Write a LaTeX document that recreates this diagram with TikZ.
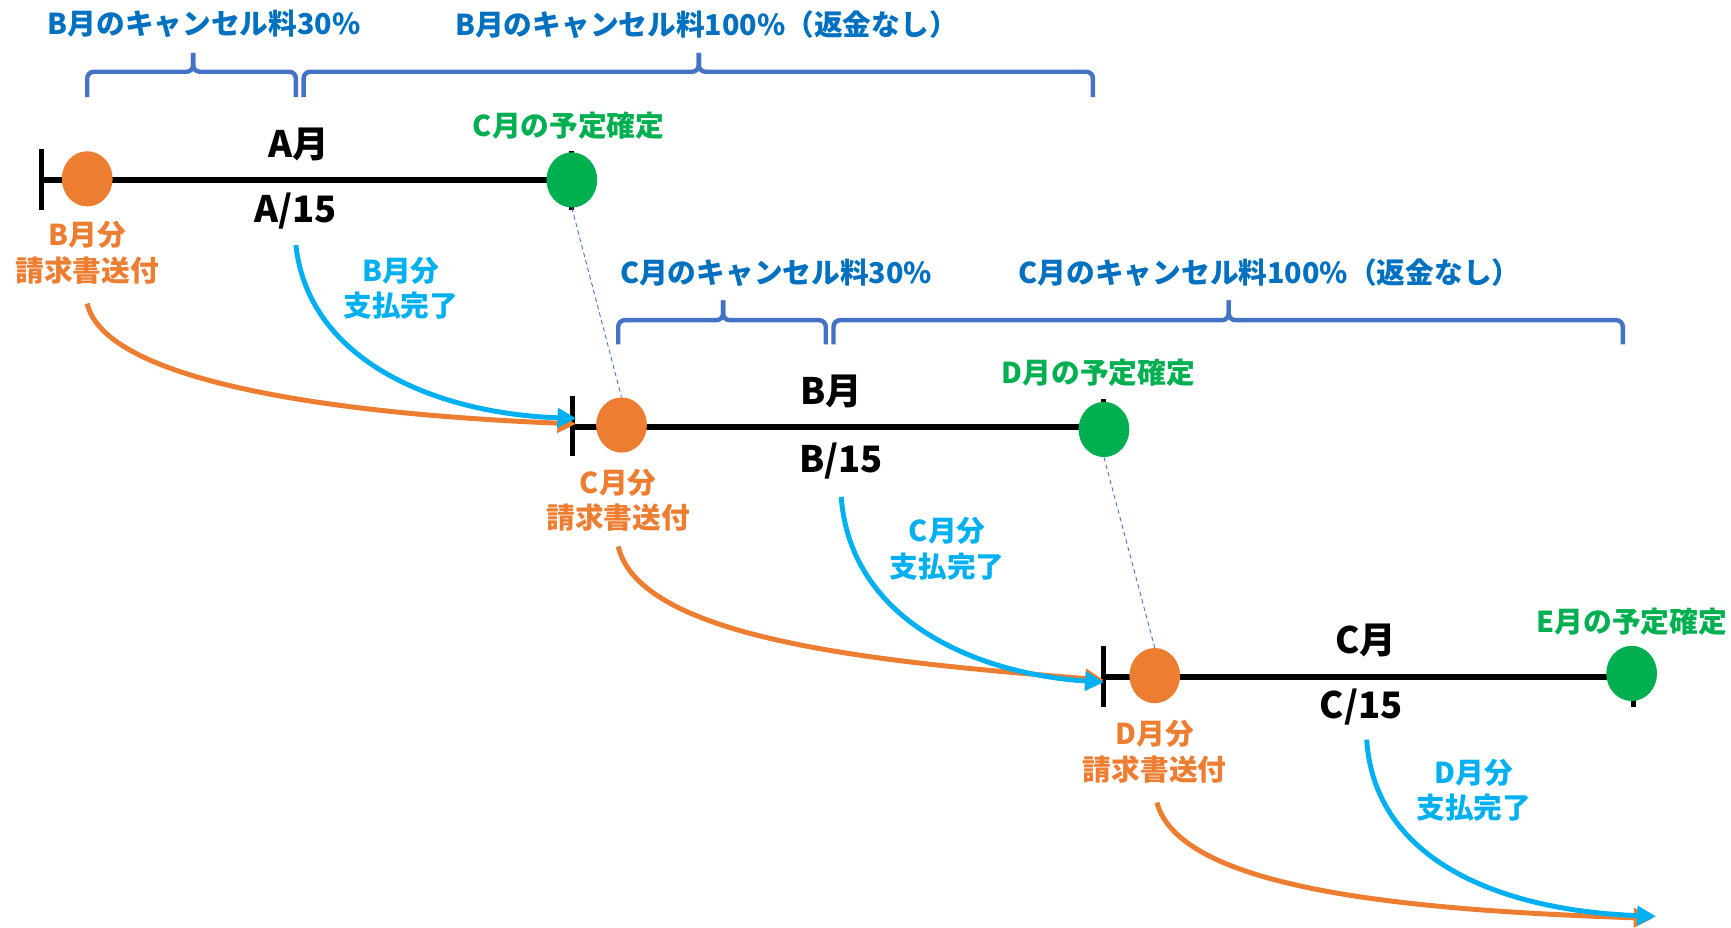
\documentclass[tikz,border=0pt]{standalone}
\usepackage{fontspec}
\setmainfont{Noto Sans CJK JP}
\usetikzlibrary{arrows.meta,shapes.geometric}
\definecolor{dblue}{HTML}{0070C0}
\definecolor{lblue}{HTML}{00B0F0}
\definecolor{orn}{HTML}{ED7D31}
\definecolor{grn}{HTML}{00B050}
\definecolor{brc}{HTML}{4472C4}
\begin{document}
\begin{tikzpicture}[x=1pt,y=-1pt,
  lab/.style={font=\fontsize{26}{32}\selectfont\bfseries, inner sep=0pt, align=center},
  big/.style={font=\fontsize{33}{36}\selectfont\bfseries, inner sep=0pt},
  tl/.style={line width=5.5pt, black},
  tickln/.style={line width=4.5pt, black},
  odot/.style={ellipse, fill=orn, inner sep=0pt, minimum width=46pt, minimum height=50pt},
  gdot/.style={ellipse, fill=grn, inner sep=0pt, minimum width=46pt, minimum height=50pt},
  bracepath/.style={brc, line width=4pt, rounded corners=6pt},
  barr/.style={lblue, line width=4.5pt, -{Triangle[length=17pt,width=17pt]}},
  oarr/.style={orn, line width=4.5pt, -{Triangle[length=17pt,width=17pt]}},
  dashln/.style={brc, line width=0.8pt, dash pattern=on 4pt off 3pt}
]
\useasboundingbox (0,0) rectangle (1568,840);

% ---------- top braces ----------
\node[lab, text=dblue] (c1a) at (185,22) {B月のキャンセル料30\%};
\node[lab, text=dblue] (c1b) at (640,22) {B月のキャンセル料100\%（返金なし）};
\draw[bracepath] (79,88) -- (79,65) -- (175,65) -- (175,48);
\draw[bracepath] (175,48) -- (175,65) -- (268,65) -- (268,88);
\draw[bracepath] (275,88) -- (275,65) -- (633,65) -- (633,48);
\draw[bracepath] (633,48) -- (633,65) -- (990,65) -- (990,88);

\node[lab, text=dblue] (c2a) at (703,247) {C月のキャンセル料30\%};
\node[lab, text=dblue] (c2b) at (1150,247) {C月のキャンセル料100\%（返金なし）};
\draw[bracepath] (560,312) -- (560,290) -- (655,290) -- (655,272);
\draw[bracepath] (655,272) -- (655,290) -- (748,290) -- (748,312);
\draw[bracepath] (755,312) -- (755,290) -- (1113,290) -- (1113,272);
\draw[bracepath] (1113,272) -- (1113,290) -- (1470,290) -- (1470,312);

% ---------- timeline 1 ----------
\coordinate (s1) at (38,163);
\coordinate (e1) at (518,163);
\draw[tl] (s1) -- (e1);
\draw[tickln] (38,135) -- (38,190);
\draw[tickln] (518,137) -- (518,190);
\node[odot] (o1) at (79,162) {};
\node[gdot] (g1) at (518,163) {};
\node[big] (m1) at (271,131) {A月};
\node[big] (d1) at (268,191) {A/15};
\node[lab, text=grn] (k1) at (515,114) {C月の予定確定};
\node[lab, text=orn] (i1) at (79,229) {B月分\\請求書送付};
\node[lab, text=lblue] (p1) at (363,261) {B月分\\支払完了};

% ---------- timeline 2 ----------
\coordinate (s2) at (519,387);
\coordinate (e2) at (1000,387);
\draw[tl] (s2) -- (e2);
\draw[tickln] (519,359) -- (519,413);
\draw[tickln] (1000,361) -- (1000,414);
\node[odot] (o2) at (563,385) {};
\node[gdot] (g2) at (1000,389) {};
\node[big] (m2) at (753,355) {B月};
\node[big] (d2) at (762,418) {B/15};
\node[lab, text=grn] (k2) at (995,338) {D月の予定確定};
\node[lab, text=orn] (i2) at (560,453) {C月分\\請求書送付};
\node[lab, text=lblue] (p2) at (858,497) {C月分\\支払完了};

% ---------- timeline 3 ----------
\coordinate (s3) at (1000,613);
\coordinate (e3) at (1480,613);
\draw[tl] (s3) -- (e3);
\draw[tickln] (1000,585) -- (1000,640);
\draw[tickln] (1480,585) -- (1480,640);
\node[odot] (o3) at (1046,612) {};
\node[gdot] (g3) at (1478,610) {};
\node[big] (m3) at (1237,580) {C月};
\node[big] (d3) at (1233,640) {C/15};
\node[lab, text=grn] (k3) at (1478,563) {E月の予定確定};
\node[lab, text=orn] (i3) at (1046,681) {D月分\\請求書送付};
\node[lab, text=lblue] (p3) at (1335,716) {D月分\\支払完了};

% ---------- dashed links ----------
\draw[dashln] (g1.south) -- (o2.north);
\draw[dashln] (g2.south) -- (o3.north);

% ---------- arrows ----------
\coordinate (bs1) at (268,222);
\coordinate (os1) at (79,275);
\coordinate (bt2) at (522,379);
\coordinate (ot2) at (522,384);
\draw[oarr] (os1) .. controls (95,345) and (300,375) .. (ot2);
\draw[barr] (bs1) .. controls (280,330) and (400,375) .. (bt2);

\coordinate (bs2) at (762,450);
\coordinate (os2) at (560,495);
\coordinate (bt3) at (1000,618);
\coordinate (ot3) at (1000,616);
\draw[oarr] (os2) .. controls (580,580) and (800,600) .. (ot3);
\draw[barr] (bs2) .. controls (770,560) and (880,610) .. (bt3);

\coordinate (bs3) at (1238,670);
\coordinate (os3) at (1048,727);
\coordinate (bt4) at (1500,830);
\coordinate (ot4) at (1497,832);
\draw[oarr] (os3) .. controls (1070,810) and (1300,825) .. (ot4);
\draw[barr] (bs3) .. controls (1245,780) and (1360,825) .. (bt4);
\end{tikzpicture}
\end{document}
